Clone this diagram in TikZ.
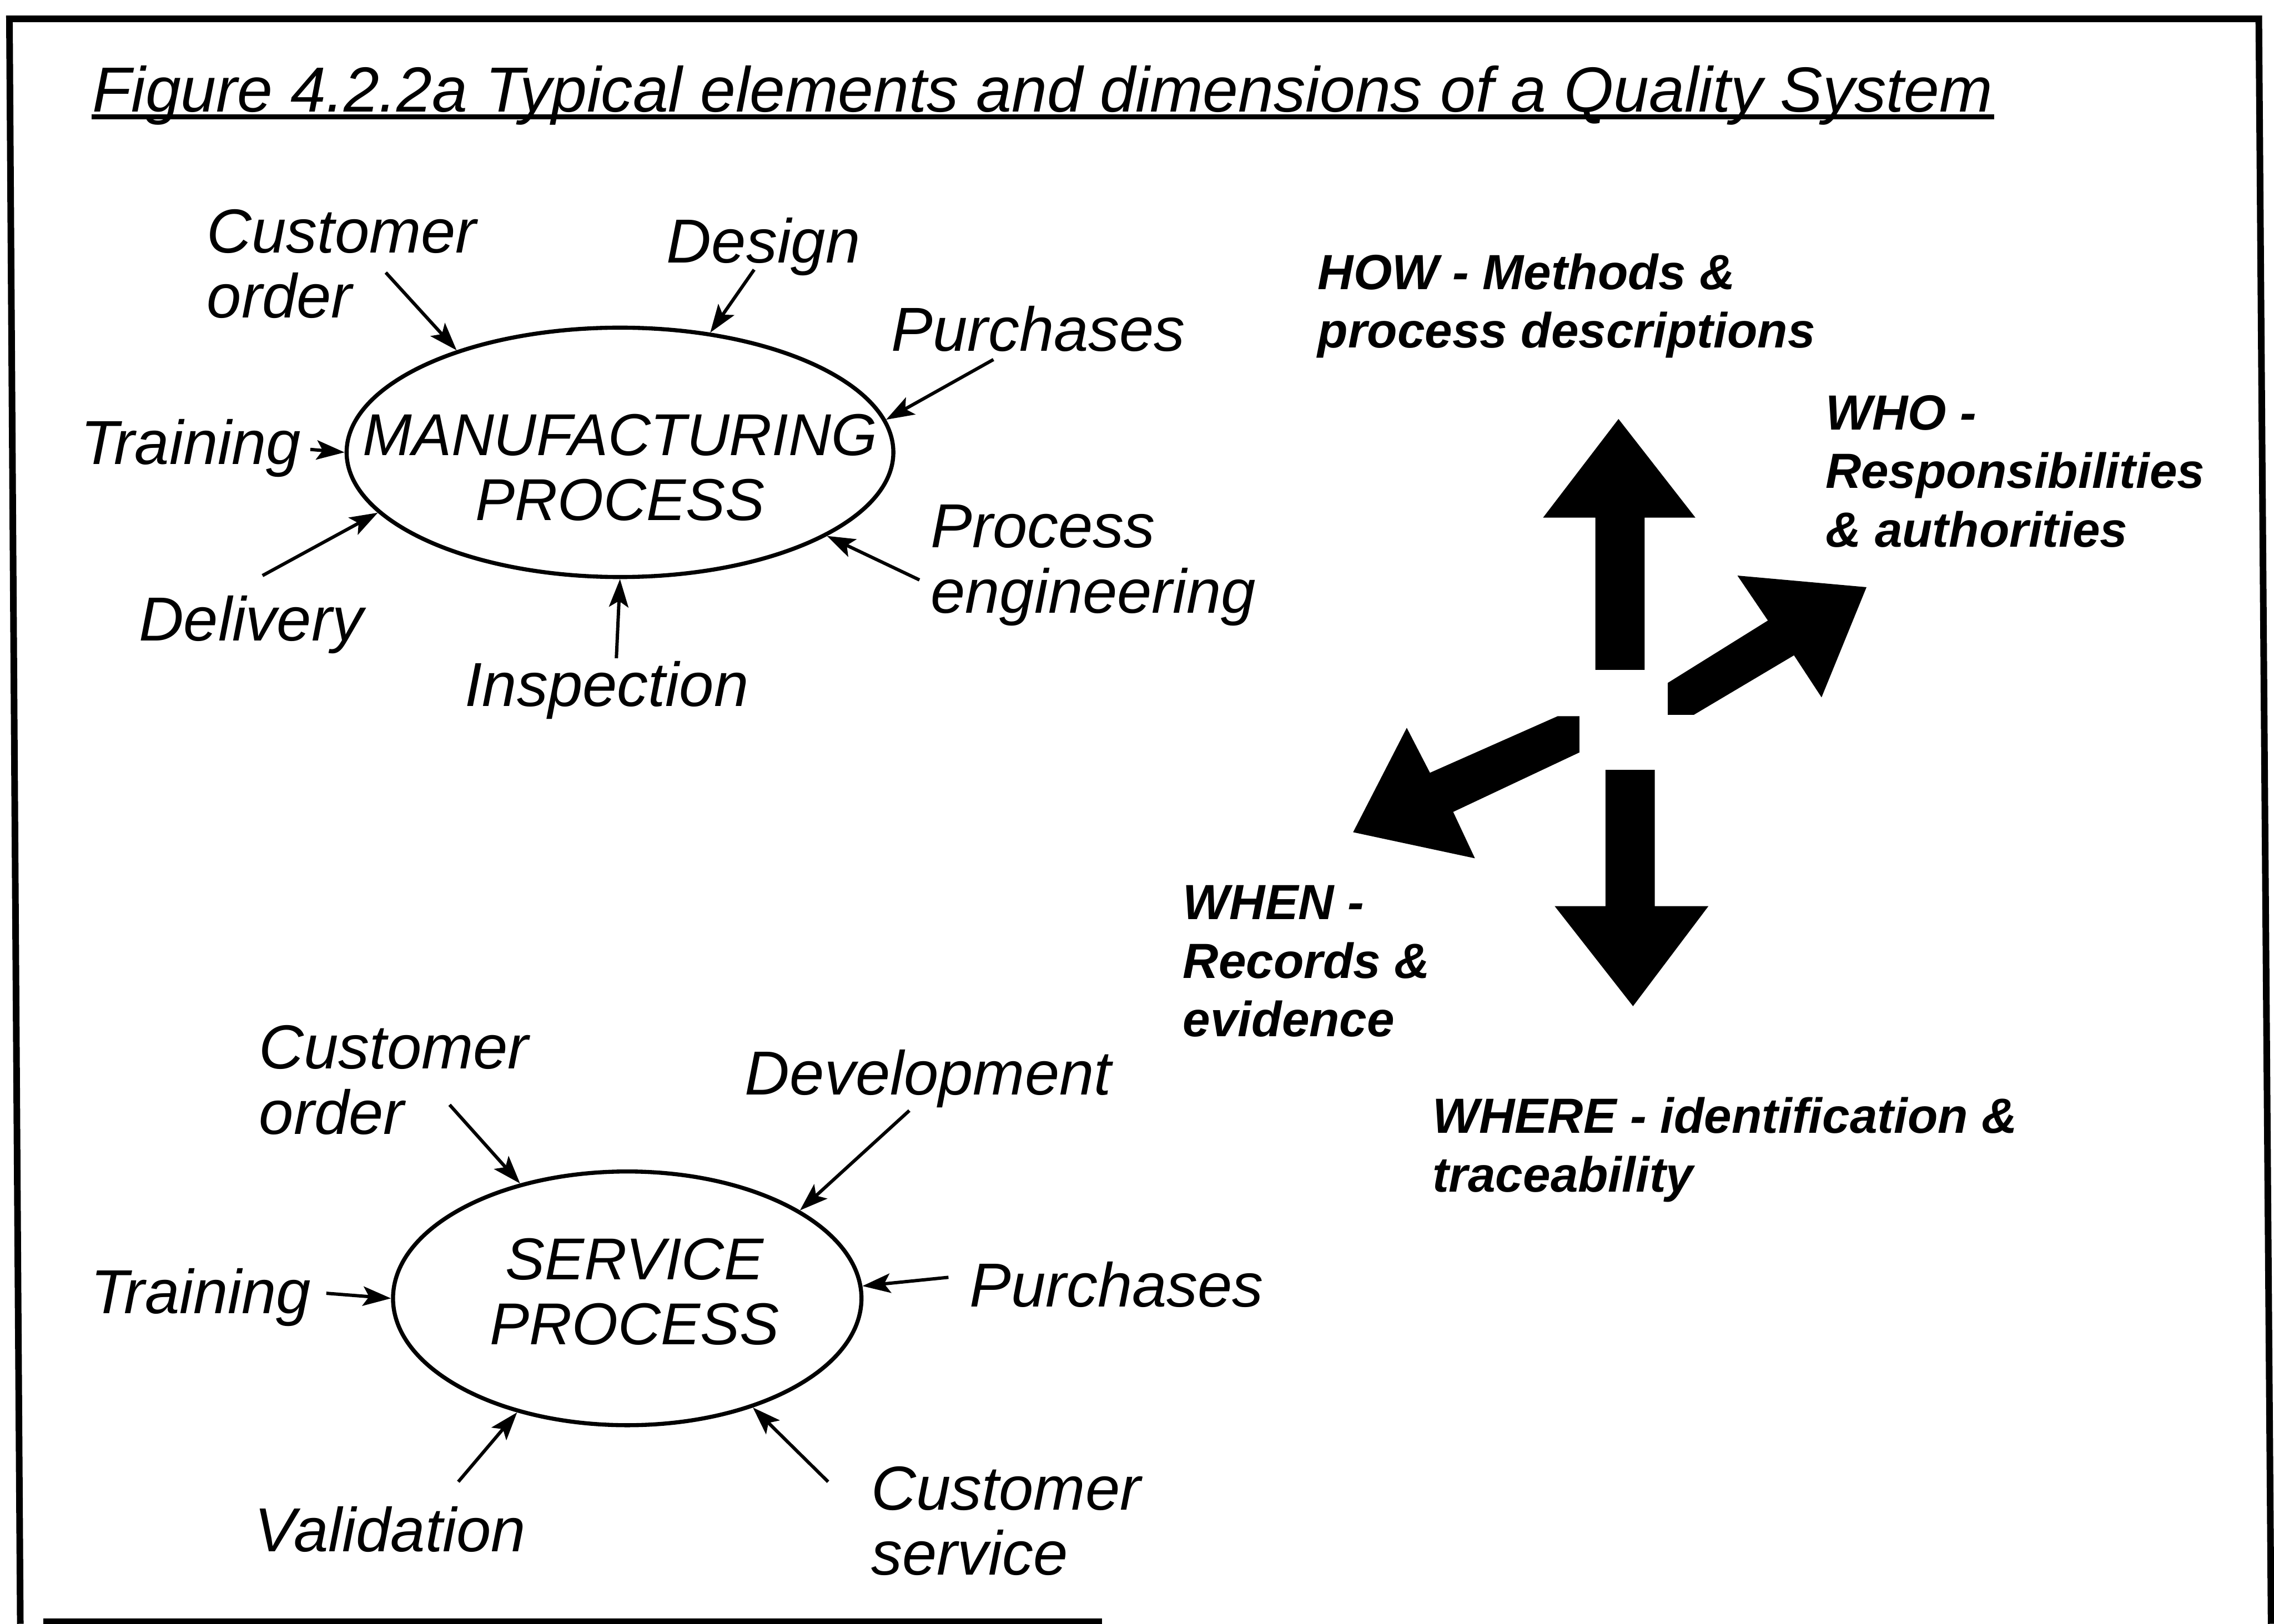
\documentclass[tikz,border=0pt]{standalone}
\usepackage{fontspec}
\setmainfont{Liberation Sans}
\usetikzlibrary{shapes.geometric, arrows.meta}

\tikzstyle{process} = [ellipse, draw=black, line width=0.8pt, inner sep=0pt]
\tikzstyle{proctext} = [align=center, inner sep=0pt, font=\fontsize{11.6}{12.8}\selectfont\itshape]
\tikzstyle{element} = [anchor=west, align=left, inner sep=0pt, font=\fontsize{12.2}{12.8}\selectfont\itshape]
\tikzstyle{dimension} = [anchor=west, align=left, inner sep=0pt, font=\fontsize{9.7}{11.5}\selectfont\bfseries\itshape]
\tikzstyle{arrow} = [line width=0.65pt, -{Stealth[length=5.5pt, width=3.8pt, inset=1.2pt]}]
\tikzstyle{bigarrow} = [fill=black]

\begin{document}
\begin{tikzpicture}
\useasboundingbox (0,0) rectangle (15.68,11.2);

% frame
\draw [line width=1.3pt] (0.14,0) -- (0.065,11.07) -- (15.575,11.07) -- (15.66,0);
\draw [line width=1.3pt] (0.30,0.015) -- (7.6,0.015);

% title
\node (title) [anchor=base west, inner sep=0pt, font=\fontsize{12.5}{15}\selectfont\itshape] at (0.63,10.43) {Figure 4.2.2a Typical elements and dimensions of a Quality System};
\draw [line width=1pt] ([yshift=-1pt]title.base west) -- ([yshift=-1pt]title.base east);

% manufacturing process
\node (mp) [process, minimum width=3.77cm, minimum height=1.72cm] at (4.275,8.08) {};
\node (mptext) [proctext] at ([yshift=-0.105cm]mp.center) {MANUFACTURING\\PROCESS};

\node (mcust) [element] at (1.42,9.38) {Customer\\order};
\node (mdes) [element] at (4.59,9.50) {Design};
\node (mpur) [element] at (6.14,8.93) {Purchases};
\node (mtrain) [element] at (0.55,8.11) {Training};
\node (mdel) [element] at (0.95,6.89) {Delivery};
\node (minsp) [element] at (3.20,6.44) {Inspection};
\node (meng) [element] at (6.41,7.30) {Process\\engineering};

\coordinate (mcust-t) at (2.66,9.32);
\coordinate (mdes-t) at (5.20,9.34);
\coordinate (mpur-t) at (6.85,8.72);
\coordinate (mtrain-t) at (2.14,8.10);
\coordinate (mdel-t) at (1.81,7.23);
\coordinate (minsp-t) at (4.25,6.66);
\coordinate (meng-t) at (6.34,7.20);

\draw [arrow] (mcust-t) -- (mp.148.9);
\draw [arrow] (mdes-t) -- (mp.53.3);
\draw [arrow] (mpur-t) -- (mp.7.7);
\draw [arrow] (mtrain-t) -- (mp.180);
\draw [arrow] (mdel-t) -- (mp.194.5);
\draw [arrow] (minsp-t) -- (mp.270);
\draw [arrow] (meng-t) -- (mp.-22.1);

% service process
\node (sp) [process, minimum width=3.23cm, minimum height=1.75cm] at (4.325,2.245) {};
\node (sptext) [proctext] at ([xshift=0.05cm, yshift=0.045cm]sp.center) {SERVICE\\PROCESS};

\node (scust) [element] at (1.78,3.75) {Customer\\order};
\node (sdev) [element] at (5.13,3.76) {Development};
\node (strain) [element] at (0.62,2.25) {Training};
\node (spur) [element] at (6.68,2.34) {Purchases};
\node (sval) [element] at (1.75,0.65) {Validation};
\node (sserv) [element] at (6.00,0.71) {Customer\\service};

\coordinate (scust-t) at (3.10,3.58);
\coordinate (sdev-t) at (6.27,3.54);
\coordinate (strain-t) at (2.25,2.28);
\coordinate (spur-t) at (6.54,2.39);
\coordinate (sval-t) at (3.16,0.98);
\coordinate (sserv-t) at (5.71,0.98);

\draw [arrow] (scust-t) -- (sp.133.5);
\draw [arrow] (sdev-t) -- (sp.27.8);
\draw [arrow] (strain-t) -- (sp.180);
\draw [arrow] (spur-t) -- (sp.3.7);
\draw [arrow] (sval-t) -- (sp.226.5);
\draw [arrow] (sserv-t) -- (sp.-41.6);

% dimensions
\node (how) [dimension] at (9.08,9.09) {HOW - Methods \&\\process descriptions};
\node (who) [dimension] at (12.58,7.95) {WHO -\\Responsibilities\\\& authorities};
\node (when) [dimension] at (8.15,4.57) {WHEN -\\Records \&\\evidence};
\node (where) [dimension] at (9.87,3.27) {WHERE - identification \&\\traceability};

% block arrows
\fill [bigarrow] (11.00,6.58) -- (11.00,7.63) -- (10.64,7.63) -- (11.16,8.31) -- (11.69,7.63) -- (11.34,7.63) -- (11.34,6.58) -- cycle;
\fill [bigarrow] (11.07,5.89) -- (11.41,5.89) -- (11.41,4.95) -- (11.78,4.95) -- (11.26,4.26) -- (10.72,4.95) -- (11.07,4.95) -- cycle;
\fill [bigarrow] (11.50,6.27) -- (11.50,6.49) -- (12.19,6.92) -- (11.98,7.23) -- (12.87,7.15) -- (12.56,6.39) -- (12.37,6.68) -- (11.68,6.27) -- cycle;
\fill [bigarrow] (10.74,6.26) -- (10.89,6.26) -- (10.89,6.01) -- (10.02,5.60) -- (10.17,5.28) -- (9.33,5.46) -- (9.70,6.18) -- (9.86,5.87) -- cycle;

\end{tikzpicture}
\end{document}
